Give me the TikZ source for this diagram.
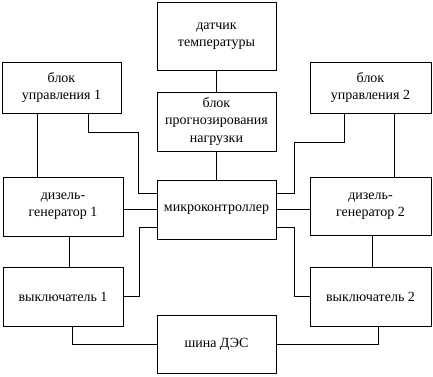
\documentclass[tikz,border=0pt]{standalone}
\usepackage{fontspec}
\setmainfont{Liberation Serif}
\usetikzlibrary{positioning, calc}

\begin{document}
\begin{tikzpicture}[x=0.75pt, y=-0.75pt,
    blok/.style={draw, line width=0.6pt, align=center, inner sep=0pt,
      font=\fontsize{10.5}{12.8}\selectfont},
    svyaz/.style={draw, line width=0.5pt}]
  \useasboundingbox (0,0) rectangle (433,377);

  \node[blok, minimum width={119*0.75pt}, minimum height={68*0.75pt}] (datchik) at (216.5,36) {датчик\\температуры};
  \node[blok, minimum width={119*0.75pt}, minimum height={59*0.75pt}] (prognoz) at (216.5,121.5) {блок\\прогнозирования\\нагрузки};
  \node[blok, minimum width={119*0.75pt}, minimum height={59*0.75pt}] (mk) at (216.5,209.5) {микроконтроллер};
  \node[blok, minimum width={119*0.75pt}, minimum height={58*0.75pt}] (shina) at (216.5,344) {шина ДЭС};

  \node[blok, minimum width={119*0.75pt}, minimum height={51*0.75pt}] (bu1) at (61.5,87.5) {блок\\управления 1};
  \node[blok, minimum width={120*0.75pt}, minimum height={59*0.75pt}] (dg1) at (63,206.5) {дизель-\\генератор 1};
  \node[blok, minimum width={120*0.75pt}, minimum height={59*0.75pt}] (vk1) at (63,296.5) {выключатель 1};

  \node[blok, minimum width={121*0.75pt}, minimum height={51*0.75pt}] (bu2) at (370.5,87.5) {блок\\управления 2};
  \node[blok, minimum width={121*0.75pt}, minimum height={58*0.75pt}] (dg2) at (370.5,206) {дизель-\\генератор 2};
  \node[blok, minimum width={121*0.75pt}, minimum height={59*0.75pt}] (vk2) at (370.5,296.5) {выключатель 2};

  % центральная колонка
  \draw[svyaz] (datchik) -- (prognoz);
  \draw[svyaz] (prognoz) -- (mk);

  % левая сторона
  \coordinate (b1a) at ($(bu1.south west)+(36,0)$);
  \coordinate (b1b) at ($(bu1.south west)+(87,0)$);
  \coordinate (mkw1) at ($(mk.west)+(0,-16.5)$);
  \coordinate (mkw3) at ($(mk.west)+(0,17.5)$);
  \draw[svyaz] (b1a) -- (b1a |- dg1.north);
  \draw[svyaz] (b1b) -- ++(0,19) -| ($(mkw1)+(-18,0)$) -- (mkw1);
  \draw[svyaz] (dg1.east |- mk.west) -- (mk.west);
  \draw[svyaz] (vk1.east) -- ++(16,0) |- (mkw3);
  \coordinate (d1) at ($(dg1.south)+(6,0)$);
  \draw[svyaz] (d1) -- (d1 |- vk1.north);
  \draw[svyaz] ($(vk1.south)+(9,0)$) |- (shina.west);

  % правая сторона
  \coordinate (b2a) at ($(bu2.south west)+(35,0)$);
  \coordinate (b2b) at ($(bu2.south west)+(85,0)$);
  \coordinate (mke1) at ($(mk.east)+(0,-16.5)$);
  \coordinate (mke3) at ($(mk.east)+(0,17.5)$);
  \draw[svyaz] (b2a) -- ++(0,29) -| ($(mke1)+(18,0)$) -- (mke1);
  \draw[svyaz] (b2b) -- (b2b |- dg2.north);
  \draw[svyaz] (mk.east) -- (mk.east -| dg2.west);
  \draw[svyaz] (mke3) -- ++(18,0) |- (vk2.west);
  \coordinate (d2) at ($(dg2.south)+(1.5,0)$);
  \draw[svyaz] (d2) -- (d2 |- vk2.north);
  \draw[svyaz] ($(vk2.south)+(8,0)$) |- (shina.east);
\end{tikzpicture}
\end{document}
